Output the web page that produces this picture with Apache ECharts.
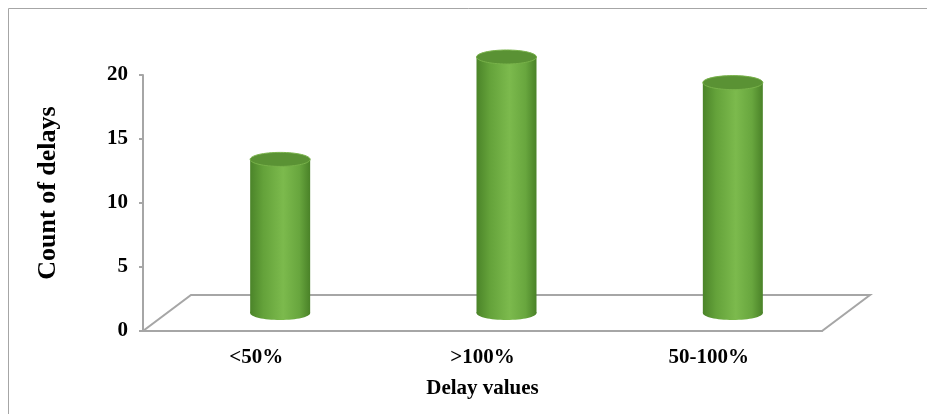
<!DOCTYPE html>
<html>
<head>
<meta charset="utf-8">
<style>
  html, body { margin: 0; padding: 0; background: #fff; }
  #chart { width: 927px; height: 414px; }
</style>
<script src="https://cdn.jsdelivr.net/npm/echarts@6/dist/echarts.min.js"></script>
</head>
<body>
<div id="chart"></div>
<script>
// Delay categories and their counts
const categories = ['<50%', '>100%', '50-100%'];
const counts = [12, 20, 18];
const yTicks = [0, 5, 10, 15, 20];

const FONT = 'Liberation Serif';
const AXIS_GRAY = '#a6a6a6';
// Depth of the 3D floor: back edge offset from the front edge
const DEPTH_X = 48, DEPTH_Y = -36;
const CYL_RX = 30, CYL_RY = 7;

const chart = echarts.init(document.getElementById('chart'), null, { renderer: 'canvas' });

const bodyGradient = new echarts.graphic.LinearGradient(0, 0, 1, 0, [
  { offset: 0, color: '#4b8429' },
  { offset: 0.22, color: '#64a23a' },
  { offset: 0.55, color: '#7cba4d' },
  { offset: 0.82, color: '#68a63e' },
  { offset: 1, color: '#4a8228' }
]);

chart.setOption({
  backgroundColor: '#ffffff',
  animation: false,
  grid: { left: 143, right: 105, top: 75, bottom: 83, containLabel: false },
  xAxis: {
    type: 'category',
    data: categories,
    name: 'Delay values',
    nameLocation: 'middle',
    nameGap: 47,
    nameTextStyle: { fontFamily: FONT, fontWeight: 'bold', fontSize: 21, color: '#000' },
    axisLine: { lineStyle: { color: AXIS_GRAY, width: 2 } },
    axisTick: { show: false },
    axisLabel: { margin: 16, fontFamily: FONT, fontWeight: 'bold', fontSize: 21, color: '#000' }
  },
  yAxis: {
    type: 'value',
    min: yTicks[0],
    max: yTicks[yTicks.length - 1],
    interval: yTicks[1] - yTicks[0],
    axisLine: { show: true, lineStyle: { color: AXIS_GRAY, width: 2 } },
    axisTick: { show: true, length: 4, lineStyle: { color: AXIS_GRAY, width: 2 } },
    splitLine: { show: false },
    axisLabel: { margin: 15, fontFamily: FONT, fontWeight: 'bold', fontSize: 21, color: '#000' }
  },
  graphic: [
    {
      type: 'rect',
      shape: { x: 8.5, y: 8.5, width: 940, height: 430 },
      style: { fill: 'none', stroke: '#a6a6a6', lineWidth: 1 },
      silent: true, z: -10
    },
    {
      type: 'text',
      x: 48, y: 193,
      rotation: Math.PI / 2,
      style: {
        text: 'Count of delays',
        fontFamily: FONT, fontWeight: 'bold', fontSize: 26, fill: '#000',
        align: 'center', verticalAlign: 'middle'
      }
    }
  ],
  series: [
    {
      // 3D floor outline under the bars
      type: 'custom',
      z: 1,
      data: [[0, 0]],
      renderItem: function (params, api) {
        const cs = params.coordSys;
        const x0 = cs.x, x1 = cs.x + cs.width, y0 = cs.y + cs.height;
        return {
          type: 'polygon',
          shape: { points: [[x0, y0], [x1, y0], [x1 + DEPTH_X, y0 + DEPTH_Y], [x0 + DEPTH_X, y0 + DEPTH_Y]] },
          style: { fill: 'none', stroke: AXIS_GRAY, lineWidth: 2 }
        };
      }
    },
    {
      // cylinders standing in the middle of the floor depth
      type: 'custom',
      z: 3,
      data: counts.map((v, i) => [i, v]),
      encode: { x: 0, y: 1 },
      renderItem: function (params, api) {
        const idx = api.value(0);
        const base = api.coord([idx, 0]);
        const top = api.coord([idx, api.value(1)]);
        const cx = base[0] + DEPTH_X / 2;
        const by = base[1] + DEPTH_Y / 2;
        const ty = top[1] + DEPTH_Y / 2;
        return {
          type: 'group',
          children: [
            {
              type: 'ellipse',
              shape: { cx: cx, cy: by, rx: CYL_RX, ry: CYL_RY },
              style: { fill: bodyGradient }
            },
            {
              type: 'rect',
              shape: { x: cx - CYL_RX, y: ty, width: CYL_RX * 2, height: by - ty },
              style: { fill: bodyGradient }
            },
            {
              type: 'ellipse',
              shape: { cx: cx, cy: ty, rx: CYL_RX, ry: CYL_RY },
              style: { fill: '#5a9234', stroke: '#78b24a', lineWidth: 1 }
            }
          ]
        };
      }
    }
  ]
});
</script>
</body>
</html>
